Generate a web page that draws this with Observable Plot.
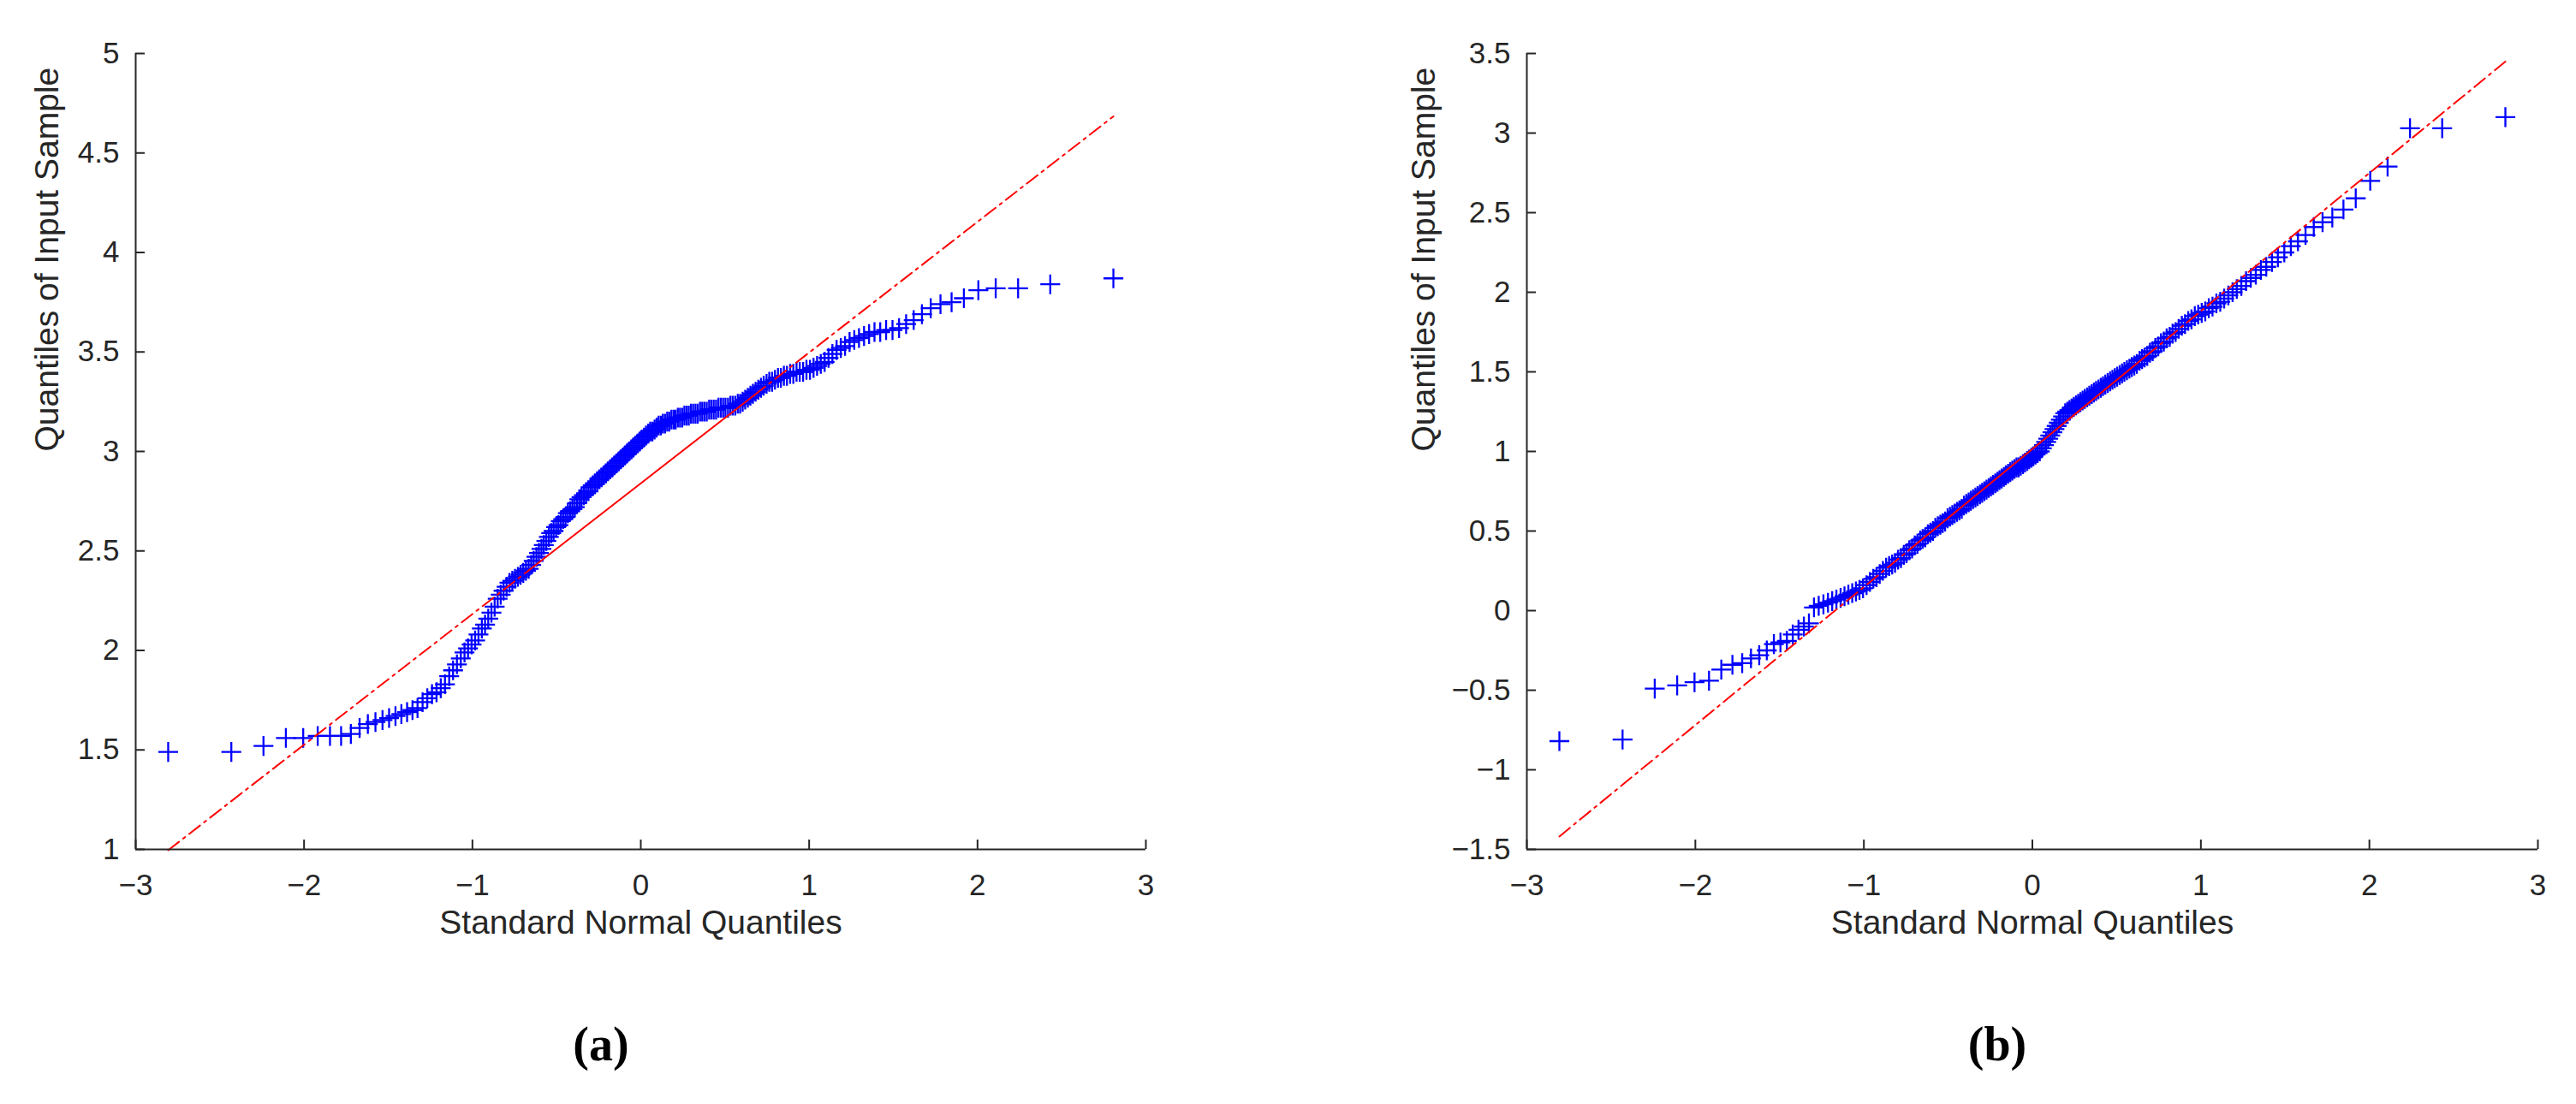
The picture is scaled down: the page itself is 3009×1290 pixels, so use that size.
<!DOCTYPE html>
<html><head><meta charset="utf-8">
<script src="https://cdn.jsdelivr.net/npm/d3@7"></script>
<script src="https://cdn.jsdelivr.net/npm/@observablehq/plot@0.6"></script>
<style>
body{margin:0;background:#fff;}
#fig{position:relative;width:3009px;height:1290px;background:#fff;overflow:hidden;}
.panel{position:absolute;top:0;}
.cap{position:absolute;top:1192px;font-family:"Liberation Serif","DejaVu Serif",serif;font-weight:bold;font-size:56px;line-height:1;color:#000;transform:translateX(-50%);white-space:nowrap;}
</style></head><body><div id="fig"></div>
<script>
// Standard normal quantiles (x positions of the 200 ordered sample points)
const normalQuantiles = [
-2.807,-2.432,-2.241,-2.108,-2.005,-1.919,-1.846,-1.780,-1.722,-1.670,
-1.621,-1.576,-1.534,-1.495,-1.457,-1.422,-1.388,-1.356,-1.326,-1.296,
-1.268,-1.240,-1.213,-1.188,-1.163,-1.138,-1.115,-1.092,-1.069,-1.047,
-1.026,-1.005,-0.984,-0.964,-0.944,-0.925,-0.906,-0.887,-0.868,-0.850,
-0.832,-0.815,-0.797,-0.780,-0.763,-0.747,-0.730,-0.714,-0.698,-0.682,
-0.666,-0.651,-0.636,-0.620,-0.605,-0.590,-0.576,-0.561,-0.546,-0.532,
-0.518,-0.503,-0.489,-0.475,-0.461,-0.447,-0.433,-0.419,-0.406,-0.392,
-0.378,-0.365,-0.352,-0.338,-0.325,-0.311,-0.298,-0.285,-0.272,-0.259,
-0.246,-0.233,-0.220,-0.207,-0.195,-0.182,-0.169,-0.157,-0.144,-0.131,
-0.119,-0.106,-0.094,-0.082,-0.069,-0.056,-0.044,-0.031,-0.019,-0.006,
0.006,0.019,0.031,0.044,0.056,0.069,0.082,0.094,0.106,0.119,
0.131,0.144,0.157,0.169,0.182,0.195,0.207,0.220,0.233,0.246,
0.259,0.272,0.285,0.298,0.311,0.325,0.338,0.352,0.365,0.378,
0.392,0.406,0.419,0.433,0.447,0.461,0.475,0.489,0.503,0.518,
0.532,0.546,0.561,0.576,0.590,0.605,0.620,0.636,0.651,0.666,
0.682,0.698,0.714,0.730,0.747,0.763,0.780,0.797,0.815,0.832,
0.850,0.868,0.887,0.906,0.925,0.944,0.964,0.984,1.005,1.026,
1.047,1.069,1.092,1.115,1.138,1.163,1.188,1.213,1.240,1.268,
1.296,1.326,1.356,1.388,1.422,1.457,1.495,1.534,1.576,1.621,
1.670,1.722,1.780,1.846,1.919,2.005,2.108,2.241,2.432,2.807
];

// Panel (a): ordered input sample
const sampleA = [
1.49,1.49,1.52,1.56,1.56,1.57,1.57,1.57,1.58,1.61,
1.63,1.64,1.65,1.66,1.67,1.68,1.69,1.70,1.71,1.74,
1.76,1.78,1.79,1.81,1.83,1.87,1.90,1.93,1.96,1.99,
2.01,2.03,2.05,2.08,2.11,2.13,2.16,2.19,2.22,2.26,
2.28,2.30,2.32,2.34,2.35,2.36,2.37,2.38,2.39,2.40,
2.41,2.43,2.45,2.47,2.49,2.51,2.53,2.55,2.57,2.59,
2.60,2.62,2.63,2.65,2.66,2.67,2.69,2.70,2.71,2.72,
2.74,2.76,2.77,2.78,2.79,2.80,2.82,2.83,2.84,2.85,
2.86,2.87,2.88,2.89,2.90,2.91,2.92,2.93,2.94,2.95,
2.96,2.97,2.98,2.99,3.00,3.01,3.02,3.03,3.04,3.05,
3.06,3.07,3.08,3.09,3.10,3.10,3.11,3.12,3.13,3.13,
3.14,3.14,3.15,3.15,3.16,3.16,3.16,3.17,3.17,3.17,
3.18,3.18,3.18,3.19,3.19,3.19,3.19,3.20,3.20,3.20,
3.20,3.21,3.21,3.21,3.21,3.22,3.22,3.22,3.22,3.22,
3.23,3.23,3.23,3.24,3.24,3.25,3.26,3.27,3.28,3.29,
3.30,3.31,3.32,3.33,3.34,3.35,3.35,3.36,3.37,3.37,
3.38,3.38,3.39,3.39,3.40,3.40,3.40,3.41,3.41,3.42,
3.43,3.44,3.45,3.47,3.49,3.51,3.52,3.53,3.55,3.56,
3.57,3.58,3.59,3.60,3.60,3.61,3.61,3.62,3.64,3.66,
3.69,3.72,3.74,3.75,3.77,3.81,3.82,3.82,3.84,3.87
];

// Panel (b): ordered input sample
const sampleB = [
-0.82,-0.81,-0.49,-0.47,-0.45,-0.44,-0.37,-0.34,-0.33,-0.30,
-0.28,-0.25,-0.21,-0.20,-0.19,-0.15,-0.12,-0.10,-0.08,0.02,
0.03,0.04,0.05,0.06,0.07,0.08,0.09,0.10,0.11,0.12,
0.13,0.14,0.16,0.18,0.20,0.21,0.23,0.25,0.27,0.28,
0.29,0.30,0.32,0.33,0.35,0.36,0.38,0.39,0.41,0.42,
0.44,0.45,0.46,0.48,0.49,0.50,0.52,0.53,0.54,0.55,
0.56,0.58,0.59,0.60,0.61,0.62,0.63,0.64,0.66,0.67,
0.68,0.69,0.70,0.71,0.72,0.73,0.74,0.75,0.76,0.77,
0.78,0.79,0.80,0.81,0.82,0.83,0.84,0.85,0.86,0.87,
0.88,0.89,0.90,0.90,0.91,0.92,0.93,0.94,0.95,0.96,
0.97,0.98,0.99,1.00,1.02,1.04,1.06,1.08,1.10,1.12,
1.14,1.16,1.18,1.20,1.22,1.24,1.25,1.26,1.27,1.28,
1.29,1.30,1.31,1.32,1.33,1.34,1.35,1.36,1.37,1.38,
1.39,1.40,1.41,1.42,1.43,1.44,1.45,1.46,1.47,1.48,
1.49,1.50,1.51,1.52,1.53,1.54,1.55,1.57,1.58,1.59,
1.60,1.62,1.63,1.65,1.66,1.68,1.69,1.71,1.72,1.74,
1.75,1.77,1.79,1.80,1.82,1.83,1.85,1.86,1.87,1.88,
1.90,1.91,1.93,1.94,1.96,1.98,2.00,2.02,2.04,2.07,
2.09,2.11,2.14,2.16,2.19,2.22,2.25,2.29,2.32,2.36,
2.41,2.44,2.47,2.52,2.59,2.70,2.79,3.03,3.03,3.10
];

// Reference lines (through 1st and 3rd quartiles, extended to the data range)
const refLineX = [-2.807, -0.674, 0.674, 2.807];
const refLineA = [0.996, 2.397, 3.283, 4.684];
const refLineB = [-1.419, 0.431, 1.599, 3.449];

// Ticks and labels
const xTicks = [-3, -2, -1, 0, 1, 2, 3];
const yTicksA = [1, 1.5, 2, 2.5, 3, 3.5, 4, 4.5, 5];
const yTicksB = [-1.5, -1, -0.5, 0, 0.5, 1, 1.5, 2, 2.5, 3, 3.5];
const xLabel = "Standard Normal Quantiles";
const yLabel = "Quantiles of Input Sample";
const captions = ["(a)", "(b)"];

const INK = "#262626";
const fmt = d => (d < 0 ? "\u2212" + Math.abs(d) : String(d));

function panel({sample, yDomain, yTicks, lineY, width, marginLeft, marginRight, yLabelDx}) {
  const pts = normalQuantiles.map((x, i) => ({x, y: sample[i]}));
  const ln = refLineX.map((x, i) => ({x, y: lineY[i]}));
  const dashed = {x: "x", y: "y", stroke: "#ff0000", strokeWidth: 2, strokeDasharray: "16,6,3,6"};
  return Plot.plot({
    width, height: 1140,
    marginTop: 62, marginBottom: 148, marginLeft, marginRight,
    x: {domain: [-3, 3], label: null},
    y: {domain: yDomain, label: null},
    style: {fontFamily: "'Liberation Sans', Arial, sans-serif", fontSize: "35px", color: INK, background: "#fff", overflow: "visible"},
    marks: [
      Plot.dot(pts, {x: "x", y: "y", symbol: "plus", r: 7.5, stroke: "#0000ff", strokeWidth: 2.3}),
      Plot.line(ln.slice(0, 2), dashed),
      Plot.line(ln.slice(1, 3), {x: "x", y: "y", stroke: "#ff0000", strokeWidth: 2}),
      Plot.line(ln.slice(2, 4), dashed),
      Plot.ruleX([-3], {stroke: INK, strokeWidth: 2}),
      Plot.ruleY([yDomain[0]], {stroke: INK, strokeWidth: 2}),
      Plot.axisX(xTicks, {tickSize: 11, dy: -11, tickPadding: 29, tickFormat: fmt, color: INK, strokeWidth: 2, fontSize: 35, label: null}),
      Plot.axisY(yTicks, {tickSize: 11, dx: 11, tickPadding: 19, tickFormat: fmt, color: INK, strokeWidth: 2, fontSize: 35, label: null}),
      Plot.text([xLabel], {frameAnchor: "bottom", dy: 98, fontSize: 39, fill: INK}),
      Plot.text([yLabel], {frameAnchor: "left", dx: yLabelDx, rotate: -90, fontSize: 39, fill: INK})
    ]
  });
}

const fig = document.getElementById("fig");
const a = panel({sample: sampleA, yDomain: [1, 5], yTicks: yTicksA, lineY: refLineA, width: 1505, marginLeft: 158, marginRight: 167, yLabelDx: -103});
a.classList.add("panel"); a.style.left = "0px";
const b = panel({sample: sampleB, yDomain: [-1.5, 3.5], yTicks: yTicksB, lineY: refLineB, width: 1504, marginLeft: 278, marginRight: 45, yLabelDx: -120});
b.classList.add("panel"); b.style.left = "1505px";
fig.append(a, b);

[[captions[0], 702], [captions[1], 2333]].forEach(([t, x]) => {
  const d = document.createElement("div");
  d.className = "cap"; d.textContent = t; d.style.left = x + "px";
  fig.append(d);
});
</script></body></html>
